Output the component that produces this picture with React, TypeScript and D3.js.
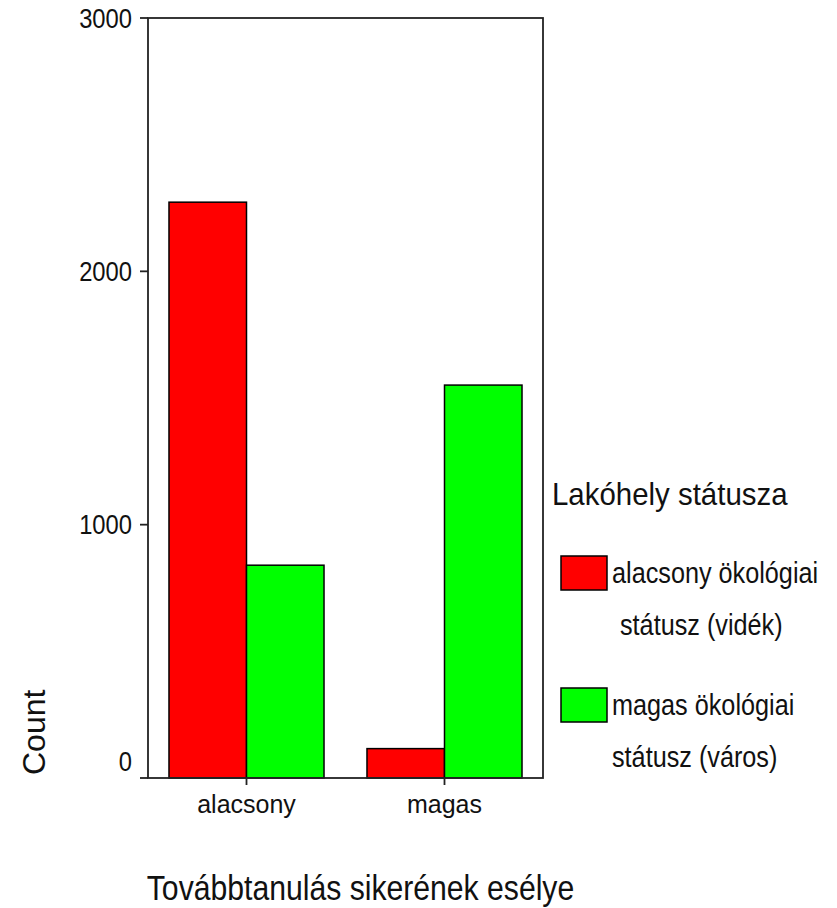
import React from "react";
import { scaleBand, scaleLinear } from "d3";

// chart data
const categories = ["alacsony", "magas"];
const seriesNames = ["alacsony ökológiai státusz (vidék)", "magas ökológiai státusz (város)"];
const legendLines = [
  ["alacsony ökológiai", "státusz (vidék)"],
  ["magas ökológiai", "státusz (város)"],
];
const videkCounts = [2273, 116];
const varosCounts = [840, 1551];
const yTicks = [0, 1000, 2000, 3000];
const colors = ["#ff0000", "#00ff00"];

const W = 837;
const H = 908;
const frame = { left: 148, right: 543, top: 18, bottom: 778 };
const font = "Arial, 'Liberation Sans', sans-serif";

function SText({ x, y, size, sx = 1, anchor = "start", children }: any) {
  // horizontally squeezed text, like the original export
  return (
    <text
      transform={`translate(${x},${y}) scale(${sx},1)`}
      fontSize={size}
      fontFamily={font}
      textAnchor={anchor}
      fill="#111"
    >
      {children}
    </text>
  );
}

export default function App() {
  const x = scaleBand<string>()
    .domain(categories)
    .range([frame.left, frame.right])
    .paddingInner(0.217)
    .paddingOuter(0.106);
  const inner = scaleBand<string>()
    .domain(seriesNames)
    .range([0, x.bandwidth()]);
  const y = scaleLinear().domain([0, 3000]).range([frame.bottom, frame.top]);
  const series = [videkCounts, varosCounts];

  return (
    <svg
      width={W}
      height={H}
      style={{ position: "absolute", left: 0, top: 0, background: "#fff" }}
    >
      <rect x={0} y={0} width={W} height={H} fill="#fff" />

      {/* bars */}
      {categories.map((c, ci) =>
        seriesNames.map((s, si) => (
          <rect
            key={c + s}
            x={(x(c) as number) + (inner(s) as number)}
            y={y(series[si][ci])}
            width={inner.bandwidth()}
            height={y(0) - y(series[si][ci])}
            fill={colors[si]}
            stroke="#000"
            strokeWidth={1.5}
          />
        ))
      )}

      {/* frame */}
      <rect
        x={frame.left}
        y={frame.top}
        width={frame.right - frame.left}
        height={frame.bottom - frame.top}
        fill="none"
        stroke="#222"
        strokeWidth={1.8}
      />

      {/* y axis */}
      {yTicks.map((t) => (
        <g key={t}>
          <line x1={frame.left - 8} x2={frame.left} y1={y(t)} y2={y(t)} stroke="#222" strokeWidth={1.8} />
          <SText x={132} y={t === 0 ? y(t) - 7 : y(t) + 9.5} size={27} sx={0.88} anchor="end">
            {t}
          </SText>
        </g>
      ))}

      {/* x axis */}
      {categories.map((c) => {
        const cx = (x(c) as number) + x.bandwidth() / 2;
        return (
          <g key={c}>
            <line x1={cx} x2={cx} y1={frame.bottom} y2={frame.bottom + 7} stroke="#222" strokeWidth={1.8} />
            <SText x={cx} y={813} size={25} sx={1} anchor="middle">
              {c}
            </SText>
          </g>
        );
      })}

      <SText x={(frame.left + frame.right) / 2 + 15} y={900} size={35} sx={0.862} anchor="middle">
        Továbbtanulás sikerének esélye
      </SText>

      <text
        transform="translate(45,775) rotate(-90)"
        fontSize={32}
        fontFamily={font}
        fill="#111"
      >
        Count
      </text>

      {/* legend */}
      <SText x={552} y={505} size={32} sx={0.92}>
        Lakóhely státusza
      </SText>
      {seriesNames.map((s, i) => {
        const top = [556, 688][i];
        return (
          <g key={s}>
            <rect x={561} y={top} width={46} height={34} fill={colors[i]} stroke="#000" strokeWidth={1.5} />
            <SText x={612} y={top + 27} size={29} sx={0.87}>
              {legendLines[i][0]}
            </SText>
            <SText x={i === 0 ? 620 : 612} y={top + 79} size={29} sx={0.87}>
              {legendLines[i][1]}
            </SText>
          </g>
        );
      })}
    </svg>
  );
}
